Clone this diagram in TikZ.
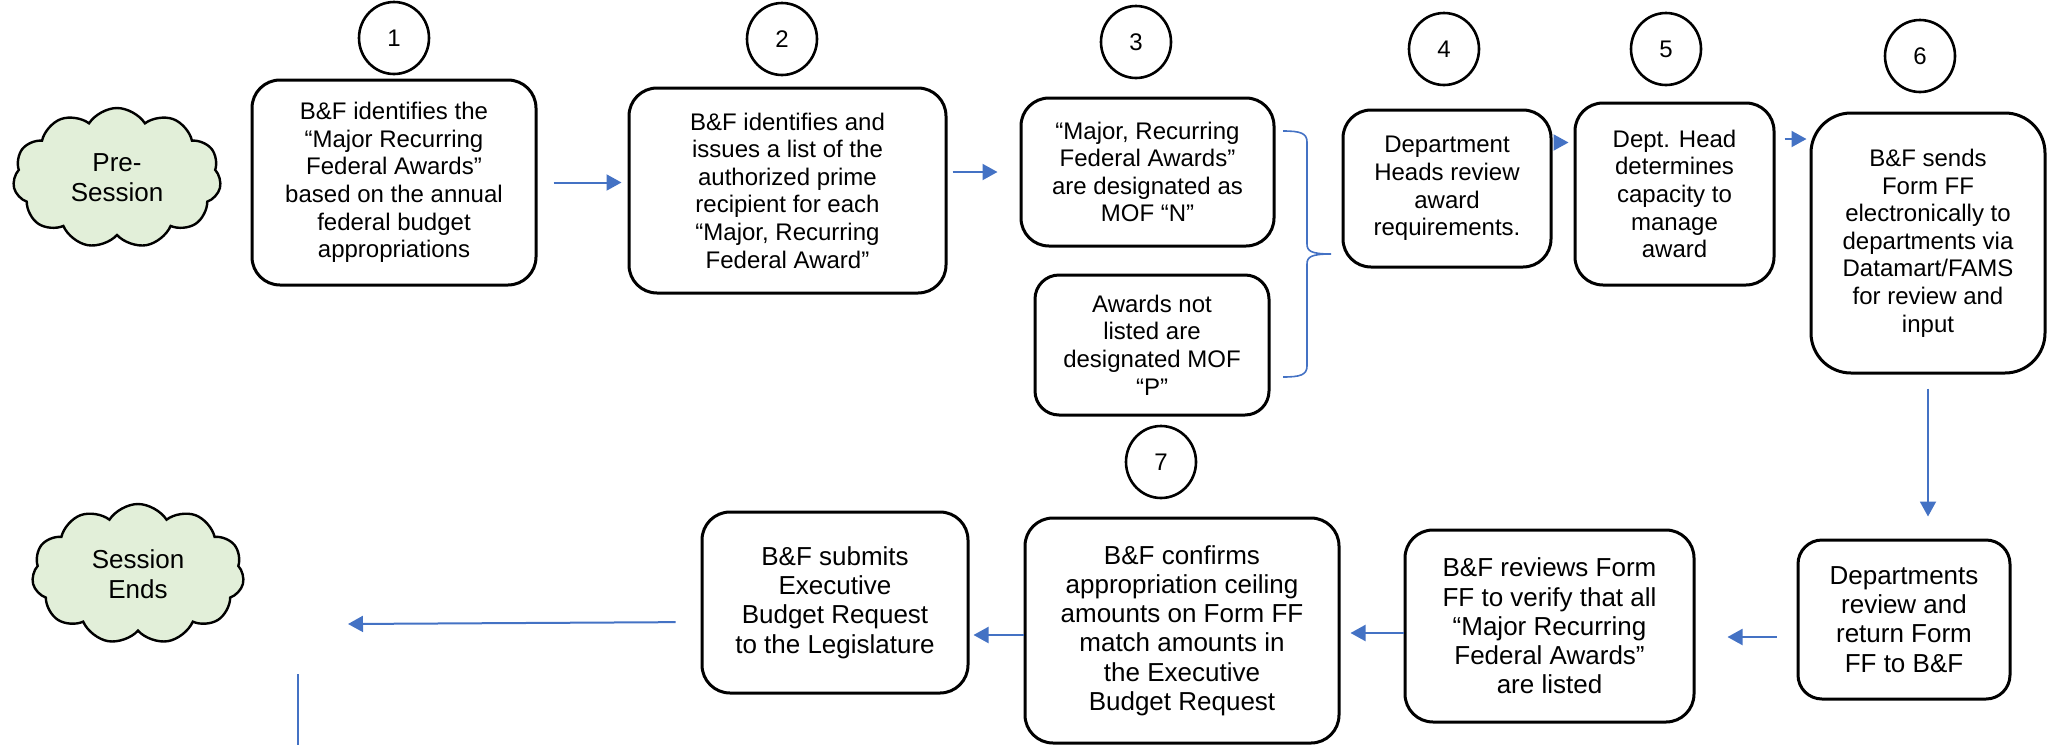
\documentclass[tikz,border=0pt]{standalone}
\usepackage{fontspec}
\setmainfont{Liberation Sans}
\usetikzlibrary{arrows.meta, shapes.geometric, shapes.symbols}

\definecolor{flowblue}{HTML}{4472C4}
\definecolor{cloudgreen}{HTML}{E2EFD9}
\newcommand{\upperfont}{\fontsize{12}{13.8}\selectfont}
\newcommand{\lowerfont}{\fontsize{13}{14.6}\selectfont}

\begin{document}
\begin{tikzpicture}[x=0.5pt, y=-0.5pt,
  stepbox/.style={draw, line width=1.5pt, rounded corners=14pt, align=center, inner sep=2pt, font=\upperfont},
  numcircle/.style={draw, ellipse, line width=1.3pt, minimum width=35pt, minimum height=36pt, inner sep=0pt, font=\upperfont},
  puff/.style={draw, cloud, cloud puffs=11, cloud puff arc=115, aspect=1.5, fill=cloudgreen, line width=1.2pt, align=center, inner sep=0pt, font=\fontsize{13}{15}\selectfont},
  flow/.style={draw=flowblue, line width=1pt, -{Triangle[length=7.5pt,width=8pt]}},
  brace/.style={draw=flowblue, line width=0.8pt}]
\useasboundingbox (0,0) rectangle (2047,745);

% Clouds
\node[puff, minimum width=104pt, minimum height=70pt] (presession) at (117,178) {Pre-\\Session};
\node[puff, minimum width=106pt, minimum height=70pt] (sessionend) at (138,574) {Session\\Ends};

% Upper row
\node[stepbox, minimum width=142pt, minimum height=102.5pt] (identify) at (394,182.5)
  {B\&F identifies the\\“Major Recurring\\Federal Awards”\\based on the annual\\federal budget\\appropriations};
\node[stepbox, minimum width=158.5pt, minimum height=102.5pt] (issue) at (787.5,190.5)
  {B\&F identifies and\\issues a list of the\\authorized prime\\recipient for each\\“Major, Recurring\\Federal Award”};
\node[stepbox, minimum width=126.5pt, minimum height=74pt] (major) at (1147.5,172)
  {“Major, Recurring\\Federal Awards”\\are designated as\\MOF “N”};
\node[stepbox, rounded corners=12pt, minimum width=117pt, minimum height=70pt] (notlisted) at (1152,345)
  {Awards not\\listed are\\designated MOF\\“P”};
\node[stepbox, minimum width=104pt, minimum height=78.5pt] (headreview) at (1447,188.5)
  {Department\\Heads review\\award\\requirements.};
\node[stepbox, minimum width=99.5pt, minimum height=91pt] (capacity) at (1674.5,194)
  {Dept. Head\\determines\\capacity to\\manage\\award};
\node[stepbox, rounded corners=20pt, minimum width=117pt, minimum height=130pt] (sendff) at (1928,243)
  {B\&F sends\\Form FF\\electronically to\\departments via\\Datamart/FAMS\\for review and\\input};

% Lower row
\node[stepbox, font=\lowerfont, rounded corners=12pt, minimum width=106pt, minimum height=79.5pt] (deptreturn) at (1904,619.5)
  {Departments\\review and\\return Form\\FF to B\&F};
\node[stepbox, font=\lowerfont, minimum width=144.5pt, minimum height=96pt] (verify) at (1549.5,626)
  {B\&F reviews Form\\FF to verify that all\\“Major Recurring\\Federal Awards”\\are listed};
\node[stepbox, font=\lowerfont, minimum width=157pt, minimum height=112.5pt] (confirm) at (1182,630.5)
  {B\&F confirms\\appropriation ceiling\\amounts on Form FF\\match amounts in\\the Executive\\Budget Request};
\node[stepbox, font=\lowerfont, minimum width=133pt, minimum height=90.5pt] (submit) at (835,602.5)
  {B\&F submits\\Executive\\Budget Request\\to the Legislature};

% Step numbers
\node[numcircle] (n1) at (394,38) {1};
\node[numcircle] (n2) at (782,39) {2};
\node[numcircle] (n3) at (1136,42) {3};
\node[numcircle] (n4) at (1444,49) {4};
\node[numcircle] (n5) at (1666,49) {5};
\node[numcircle] (n6) at (1920,56) {6};
\node[numcircle] (n7) at (1161,462) {7};

% Brace round step 3
\coordinate (bracetop) at (1283,131);
\coordinate (bracetip) at (1331,254);
\coordinate (bracebot) at (1283,377);
\draw[brace] (bracetop) .. controls (1300,131) and (1307,133) .. (1307,142) -- (1307,244)
  .. controls (1307,251) and (1311,254) .. (bracetip)
  .. controls (1311,254) and (1307,257) .. (1307,264) -- (1307,366)
  .. controls (1307,375) and (1300,377) .. (bracebot);

% Arrows
\draw[flow, shorten <=8pt, shorten >=3pt] (identify.east) -- (identify.east -| issue.west);
\draw[flow, shorten <=2.5pt, shorten >=11pt] (issue.east |- major.west) -- (major.west);
\draw[flow, shorten <=1pt, shorten >=2.5pt] ([yshift=23pt]headreview.east) -- ([yshift=23pt]headreview.east -| capacity.west);
\draw[flow, shorten <=4.5pt, shorten >=1.5pt] ([yshift=27.5pt]capacity.east) -- ([yshift=27.5pt]capacity.east -| sendff.west);
\draw[flow, shorten <=7pt, shorten >=11pt] (sendff.south) -- (sendff.south |- deptreturn.north);
\draw[flow, shorten <=10pt, shorten >=16pt] ([yshift=-8.75pt]deptreturn.west) -- ([yshift=-8.75pt]deptreturn.west -| verify.east);
\draw[flow, shorten >=5pt] ([yshift=-3.5pt]verify.west) -- ([yshift=-3.5pt]verify.west -| confirm.east);
\draw[flow, shorten >=2pt] ([yshift=-2.25pt]confirm.west) -- ([yshift=-2.25pt]confirm.west -| submit.east);
\coordinate (legis) at (348,624);
\draw[flow, shorten <=12.5pt] ([yshift=-9.75pt]submit.west) -- (legis);

% Loose line
\coordinate (stubtop) at (298,674);
\coordinate (stubbot) at (298,745);
\draw[flowblue, line width=0.7pt] (stubtop) -- (stubbot);
\end{tikzpicture}
\end{document}
